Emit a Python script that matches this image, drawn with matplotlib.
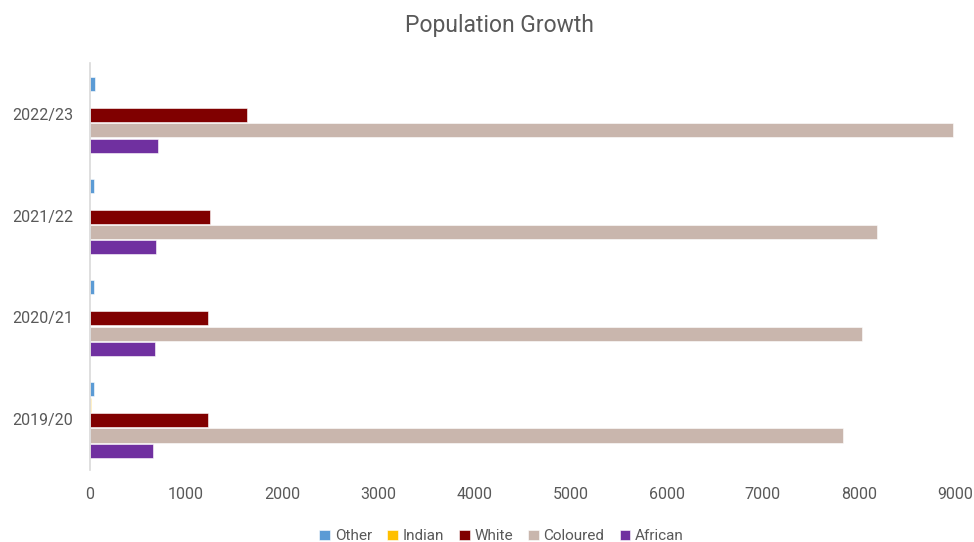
import numpy as np
import matplotlib
matplotlib.use("Agg")
import matplotlib.pyplot as plt

# data
years = ["2019/20", "2020/21", "2021/22", "2022/23"]
other = [45, 40, 38, 52]
indian = [10, 0, 0, 0]
white = [1231, 1231, 1249, 1630]
coloured = [7839, 8030, 8186, 8977]
african = [656, 673, 690, 711]

series = [
    ("Other", other, "#5B9BD5"),
    ("Indian", indian, "#FFC000"),
    ("White", white, "#800000"),
    ("Coloured", coloured, "#C9B6AD"),
    ("African", african, "#7030A0"),
]

plt.rcParams["font.family"] = ["Roboto", "DejaVu Sans"]
text_col = "#595959"

fig = plt.figure(figsize=(9.74, 5.42), dpi=100)
ax = fig.add_axes([0.0924, 0.133, 0.888, 0.751])

y = np.arange(len(years))
pitch = 0.152
height = 0.138
for i, (name, vals, col) in enumerate(series):
    # Other on top of each group, African at the bottom
    offset = (2 - i) * pitch
    ax.barh(y + offset - 0.01, vals, height=height, color=col, label=name,
            edgecolor="white", linewidth=0.4)

ax.set_yticks(y)
ax.set_yticklabels(years)
ax.set_xlim(0, 9000)
ax.set_xticks(np.arange(0, 9001, 1000))
ax.set_ylim(-0.5, len(years) - 0.5)

for s in ["top", "right", "bottom"]:
    ax.spines[s].set_visible(False)
ax.spines["left"].set_color("#D9D9D9")
ax.spines["left"].set_linewidth(1.2)
ax.tick_params(axis="both", length=0, labelsize=11.5, colors=text_col)
ax.tick_params(axis="y", pad=12)
ax.tick_params(axis="x", pad=12)

fig.suptitle("Population Growth", x=0.513, y=0.975, fontsize=16.5, color=text_col)

fig.legend(loc="lower center", ncol=5, frameon=False, fontsize=11,
           bbox_to_anchor=(0.515, -0.028), handlelength=0.7, handleheight=0.7,
           handletextpad=0.3, columnspacing=1.0, labelcolor=text_col)

fig.savefig("out.png", dpi=100)
